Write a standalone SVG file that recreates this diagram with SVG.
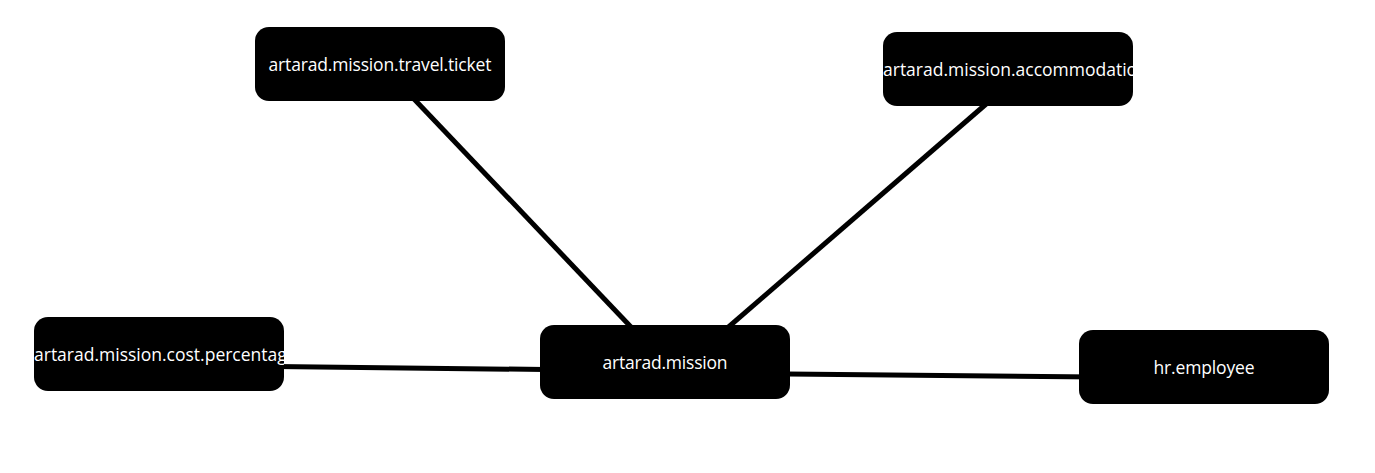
<svg xmlns="http://www.w3.org/2000/svg" width="1375" height="473" viewBox="0 0 1375 473">
<style>
.edge{stroke:#000;stroke-width:5;fill:none;stroke-linecap:butt}
.box{fill:#000}
.lbl{fill:#fff;font-family:"Open Sans","Noto Sans",sans-serif;font-size:17.5px;text-anchor:middle;dominant-baseline:central}
.lbl.over{text-anchor:start}
</style>
<defs>
<clipPath id="c-ticket"><rect x="255" y="27" width="250" height="74" rx="14"/></clipPath>
<clipPath id="c-acc"><rect x="883" y="32" width="250" height="74" rx="14"/></clipPath>
<clipPath id="c-cost"><rect x="34" y="317" width="250" height="74" rx="14"/></clipPath>
<clipPath id="c-mission"><rect x="540" y="325" width="250" height="74" rx="14"/></clipPath>
<clipPath id="c-hr"><rect x="1079" y="330" width="250" height="74" rx="14"/></clipPath>
</defs>
<rect width="1375" height="473" fill="#fff"/>
<g id="connectors">
<line class="edge" x1="400" y1="84.2" x2="650" y2="347"/>
<line class="edge" x1="1000" y1="92" x2="710" y2="343"/>
<line class="edge" x1="200" y1="365.5" x2="600" y2="370.2"/>
<line class="edge" x1="700" y1="373.2" x2="1150" y2="377.4"/>
</g>
<g id="node-travel-ticket">
<rect class="box" x="255" y="27" width="250" height="74" rx="14"/>
<text class="lbl" x="380" y="64" textLength="223" clip-path="url(#c-ticket)">artarad.mission.travel.ticket</text>
</g>
<g id="node-accommodation">
<rect class="box" x="883" y="32" width="250" height="74" rx="14"/>
<text class="lbl over" x="883" y="69" clip-path="url(#c-acc)">artarad.mission.accommodation</text>
</g>
<g id="node-cost-percentage">
<rect class="box" x="34" y="317" width="250" height="74" rx="14"/>
<text class="lbl over" x="34" y="354" clip-path="url(#c-cost)">artarad.mission.cost.percentage</text>
</g>
<g id="node-mission">
<rect class="box" x="540" y="325" width="250" height="74" rx="14"/>
<text class="lbl" x="665" y="362" textLength="125" clip-path="url(#c-mission)">artarad.mission</text>
</g>
<g id="node-hr-employee">
<rect class="box" x="1079" y="330" width="250" height="74" rx="14"/>
<text class="lbl" x="1204" y="367" textLength="101" clip-path="url(#c-hr)">hr.employee</text>
</g>
</svg>
